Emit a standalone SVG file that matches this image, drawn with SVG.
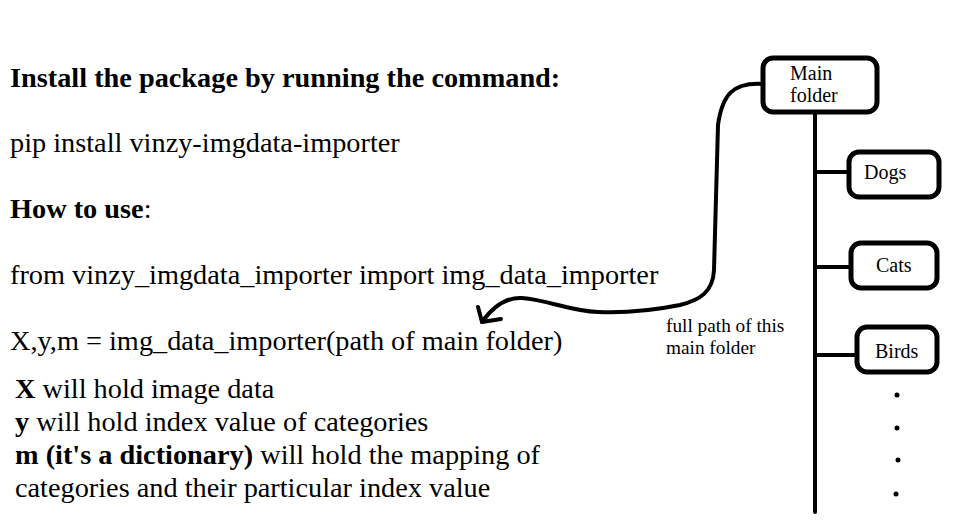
<svg xmlns="http://www.w3.org/2000/svg" width="979" height="528" viewBox="0 0 979 528">
<style>
text{font-family:"Liberation Serif","Times New Roman",serif;fill:#000}
.big{font-size:28.3px}
.mid{font-size:28.3px}
.sm{font-size:20px}
.nt{font-size:19.3px}
.b{font-weight:bold}
.box{fill:#fff;stroke:#000;stroke-width:5}
.ln{fill:none;stroke:#000;stroke-width:4;stroke-linecap:round;stroke-linejoin:round}
</style>
<rect width="979" height="528" fill="#fff"/>
<g id="instructions">
<text class="big b" x="10" y="87">Install the package by running the command:</text>
<text class="big" x="10" y="152">pip install vinzy-imgdata-importer</text>
<text class="big" x="10" y="218"><tspan class="b">How to use</tspan>:</text>
<text class="big" x="10" y="284">from vinzy_imgdata_importer import img_data_importer</text>
<text class="big" x="10" y="350">X,y,m = img_data_importer(path of main folder)</text>
<text class="mid" x="15" y="398"><tspan class="b">X</tspan> will hold image data</text>
<text class="mid" x="15" y="431"><tspan class="b">y</tspan> will hold index value of categories</text>
<text class="mid" x="15" y="464"><tspan class="b">m (it's a dictionary)</tspan> will hold the mapping of</text>
<text class="mid" x="15" y="497">categories and their particular index value</text>
</g>
<g id="connectors">
<path class="ln" d="M815,112 L815,512"/>
<path class="ln" d="M815,172 L849,172"/>
<path class="ln" d="M815,267 L851,267"/>
<path class="ln" d="M815,355 L857,355"/>
<path class="ln" stroke-width="5" d="M763,84 C732,82 722,96 718,125 L714,270 C713,292 700,300 680,305 C650,311 620,313 598,312 C570,311 548,300 522,298 C505,297 492,308 482,322"/>
<path class="ln" stroke-width="5" d="M478,307 L482,322 L501,319"/>
</g>
<g id="main-folder">
<rect class="box" x="763" y="58" width="114" height="54" rx="10"/>
<text class="sm" x="790" y="80">Main</text>
<text class="sm" x="790" y="102">folder</text>
</g>
<g id="dogs">
<rect class="box" x="849" y="152" width="90" height="45" rx="10"/>
<text class="sm" x="864" y="179">Dogs</text>
</g>
<g id="cats">
<rect class="box" x="851" y="243" width="86" height="45" rx="10"/>
<text class="sm" x="876" y="272">Cats</text>
</g>
<g id="birds">
<rect class="box" x="857" y="327" width="80" height="45" rx="10"/>
<text class="sm" x="875" y="358">Birds</text>
</g>
<g id="dots">
<circle cx="897" cy="395" r="2.5"/>
<circle cx="897" cy="428" r="2.5"/>
<circle cx="898" cy="460" r="2.5"/>
<circle cx="896" cy="494" r="2.5"/>
</g>
<g id="note">
<text class="nt" x="666" y="332">full path of this</text>
<text class="nt" x="666" y="354">main folder</text>
</g>
</svg>
